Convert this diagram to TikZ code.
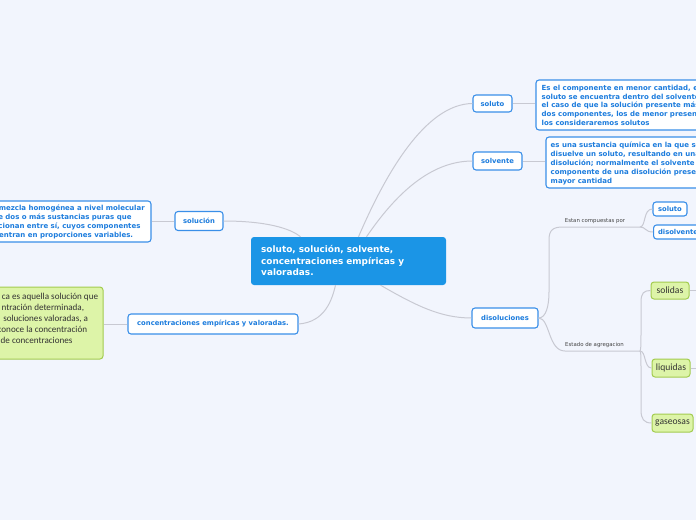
\documentclass[tikz,border=0pt]{standalone}
\usepackage{fontspec}
\setmainfont{DejaVu Sans}
\newfontfamily\greenf{Carlito}
\definecolor{bgc}{HTML}{F2F5FD}
\definecolor{cfill}{HTML}{1B95E6}
\definecolor{bborder}{HTML}{3A8FE8}
\definecolor{btext}{HTML}{1C7CDD}
\definecolor{gfill}{HTML}{DDF4A8}
\definecolor{gborder}{HTML}{A3CC4F}
\definecolor{gtext}{HTML}{333333}
\definecolor{lc}{HTML}{C8C9D2}
\definecolor{ltext}{HTML}{444444}
\begin{document}
\begin{tikzpicture}[x=1pt,y=-1pt,
 bluebox/.style={draw=bborder, fill=white, rounded corners=3pt, line width=1.1pt, text=btext, font=\bfseries\fontsize{6.8}{8.8}\selectfont, inner sep=0pt},
 greenbox/.style={draw=gborder, fill=gfill, rounded corners=3pt, line width=1pt, text=gtext, font=\greenf\fontsize{9.6}{11}\selectfont, inner sep=0pt},
 bline/.style={text=btext, font=\bfseries\fontsize{7.0}{8.8}\selectfont, inner sep=0pt},
 gline/.style={text=gtext, font=\greenf\fontsize{9.1}{11}\selectfont, inner sep=0pt, anchor=base east},
 cline/.style={text=white, font=\bfseries\fontsize{8.9}{11}\selectfont, inner sep=0pt, anchor=base west},
 conn/.style={draw=lc, line width=1pt},
 lab/.style={text=ltext, font=\fontsize{5.4}{6}\selectfont, inner sep=0pt}
]
\useasboundingbox (0,0) rectangle (696,520);
\fill[bgc] (0,0) rectangle (696,520);
\clip (0,0) rectangle (696,520);

% central
\node[fill=cfill, rounded corners=3pt, minimum width=195pt, minimum height=48pt, inner sep=0pt] (central) at (348.5,261) {};
\node[cline] (c1) at (261,252.9) {soluto, solución, solvente,};
\node[cline] (c2) at (261,264.6) {concentraciones empíricas y};
\node[cline] (c3) at (261,275.6) {valoradas.};

% main topics
\node[bluebox, minimum width=39pt, minimum height=17pt] (soluto) at (492.5,103.5) {soluto};
\node[bluebox, minimum width=49pt, minimum height=18pt] (solvente) at (497.5,161) {solvente};
\node[bluebox, minimum width=48pt, minimum height=19pt] (solucion) at (199,221) {solución};
\node[bluebox, minimum width=170pt, minimum height=20pt] (conc) at (213,324) {concentraciones empíricas y valoradas.};
\node[bluebox, minimum width=66pt, minimum height=20pt] (disol) at (505,318) {disoluciones};
\node[bluebox, minimum width=34pt, minimum height=14pt] (soluto2) at (670,209) {soluto};
\node[bluebox, anchor=west, minimum height=14pt, text width=52pt, inner xsep=4.5pt, align=left] (disolv2) at (653,232) {disolvente};

% soluto description
\node[bluebox, minimum width=174pt, minimum height=50pt] (soldesc) at (623,105) {};
\node[bline, anchor=base west] (sd1) at (541.5,90.3) {Es el componente en menor cantidad, e};
\node[bline, anchor=base west] (sd2) at (541.5,99.1) {soluto se encuentra dentro del solvente};
\node[bline, anchor=base west] (sd3) at (541.5,107.9) {el caso de que la solución presente más};
\node[bline, anchor=base west] (sd4) at (541.5,116.7) {dos componentes, los de menor presen};
\node[bline, anchor=base west] (sd5) at (541.5,125.5) {los consideraremos solutos};

% solvente description
\node[bluebox, minimum width=164pt, minimum height=51pt] (svdesc) at (628,162.5) {};
\node[bline, anchor=base west] (vd1) at (550.5,147.6) {es una sustancia química en la que se};
\node[bline, anchor=base west] (vd2) at (550.5,156.6) {disuelve un soluto, resultando en una};
\node[bline, anchor=base west] (vd3) at (550.5,165.6) {disolución; normalmente el solvente};
\node[bline, anchor=base west] (vd4) at (550.5,174.6) {componente de una disolución presen};
\node[bline, anchor=base west] (vd5) at (550.5,183.6) {mayor cantidad};

% solucion description
\node[bluebox, minimum width=161pt, minimum height=41pt] (ucdesc) at (70.5,221.5) {};
\node[bline, anchor=base east] (ud1) at (145,210.8) {mezcla homogénea a nivel molecular};
\node[bline, anchor=base east] (ud2) at (131.7,219.6) {o de dos o más sustancias puras que};
\node[bline, anchor=base east] (ud3) at (140.7,228.4) {cionan entre sí, cuyos componentes};
\node[bline, anchor=base east] (ud4) at (133.3,237.2) {uentran en proporciones variables.};

% green description
\node[greenbox, minimum width=113pt, minimum height=72pt] (gdesc) at (46.5,323) {};
\node[gline] (gd1) at (98.3,299) {ca es aquella solución que};
\node[gline] (gd2) at (84.3,310) {ntración determinada,};
\node[gline] (gd3) at (88.3,321) {soluciones valoradas, a};
\node[gline] (gd4) at (87.3,332) {conoce la concentración};
\node[gline] (gd5) at (72.7,343) {de concentraciones};

% labels
\node[lab] (l1) at (595,221) {Estan compuestas por};
\node[lab] (l2) at (594.5,345) {Estado de agregacion};

% green nodes
\node[greenbox, minimum width=38pt, minimum height=17pt] (solidas) at (670,290.5) {solidas};
\node[greenbox, minimum width=38pt, minimum height=18pt] (liquidas) at (671,368) {liquidas};
\node[greenbox, minimum width=41pt, minimum height=18pt] (gaseosas) at (672.5,423) {gaseosas};

% connectors
\draw[conn] ([xshift=10pt]central.north) .. controls (385,175) and (425,104) .. (soluto.west);
\draw[conn] ([xshift=18pt]central.north) .. controls (395,195) and (430,161) .. (solvente.west);
\draw[conn] ([xshift=32pt]central.south) .. controls (415,305) and (440,318) .. (disol.west);
\draw[conn] (solucion.east) .. controls (265,221) and (290,228) .. ([xshift=-48pt]central.north);
\draw[conn] (conc.east) .. controls (325,322) and (332,300) .. ([xshift=-13pt]central.south);
\draw[conn] (soluto.east) -- (soluto.east -| soldesc.west);
\draw[conn] (solvente.east) -- (solvente.east -| svdesc.west);
\draw[conn] (solucion.west) -- (solucion.west -| ucdesc.east);
\draw[conn] (conc.west) -- (conc.west -| gdesc.east);

\coordinate (b1) at (640,227);
\coordinate (b2) at (640,351);
\draw[conn] (disol.east) .. controls (546,318) and (549,306) .. (549,292) -- (549,240) .. controls (549,230) and (553,227) .. (563,227) -- (b1);
\draw[conn] (disol.east) .. controls (550,318) and (548,351) .. (565,351) -- (b2);
\draw[conn] (b1) .. controls (646,227) and (643,209) .. (soluto2.west);
\draw[conn] (b1) .. controls (646,227) and (645,232) .. (disolv2.west);
\draw[conn] (b2) .. controls (641,351) and (641,340) .. (641,330) -- (641,302) .. controls (641,293) and (644,290.5) .. (solidas.west);
\draw[conn] (b2) .. controls (646,351) and (644,368) .. (liquidas.west);
\draw[conn] (b2) .. controls (641,351) and (641,360) .. (641,372) -- (641,410) .. controls (641,419) and (644,423) .. (gaseosas.west);
\coordinate (e1) at (700,290.5);
\coordinate (e2) at (700,368);
\draw[conn] (solidas.east) -- (e1);
\draw[conn] (liquidas.east) -- (e2);
\end{tikzpicture}
\end{document}
